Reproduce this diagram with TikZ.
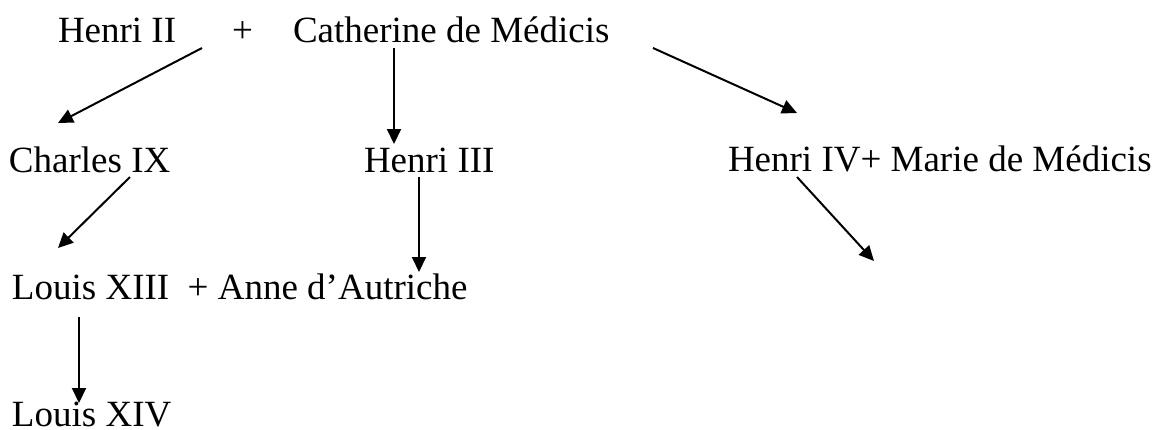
\documentclass[tikz,border=0pt]{standalone}
\usepackage{fontspec}
\setmainfont{Liberation Serif}
\usetikzlibrary{arrows.meta,calc}
\begin{document}
\begin{tikzpicture}[x=1pt,y=-1pt,
  person/.style={anchor=base west,inner sep=0pt,outer sep=0pt,font=\fontsize{37}{44}\selectfont},
  link/.style={line width=2pt,-{Triangle[length=15pt,width=14pt]}}]
\useasboundingbox (0,0) rectangle (1156,429);
\fill[white] (0,0) rectangle (1156,429);
\node[person] (h2)  at (58,42)  {Henri II};
\node[person] (plus) at (232,42) {+};
\node[person] (cat) at (293,42) {Catherine de Médicis};
\node[person] (c9)  at (9,172)  {Charles IX};
\node[person] (h3)  at (364,172) {Henri III};
\node[person] (h4)  at (728,171) {Henri IV+ Marie de Médicis};
\node[person] (l13) at (12,299) {Louis XIII~~+ Anne d’Autriche};
\node[person] (l14) at (12,426) {Louis XIV};
\coordinate (h4child) at ($(h4.base west)+(146,90)$);
% connectors
\draw[link] ($(h2.base west)+(144,6)$) -- ($(c9.base west)+(49,-49)$);
\draw[link] ($(cat.base west)+(101,6)$) -- ($(h3.base west)+(30,-28)$);
\draw[link] ($(cat.base west)+(360,6)$) -- ($(h4.base west)+(69,-58)$);
\draw[link] ($(c9.base west)+(121,5)$) -- ($(l13.base west)+(46,-51)$);
\draw[link] ($(h3.base west)+(55,5)$) -- ($(l13.base west)+(407,-27)$);
\draw[link] ($(h4.base west)+(69,6)$) -- (h4child);
\draw[link] ($(l13.base west)+(67,18)$) -- ($(l14.base west)+(67,-23)$);
\end{tikzpicture}
\end{document}
